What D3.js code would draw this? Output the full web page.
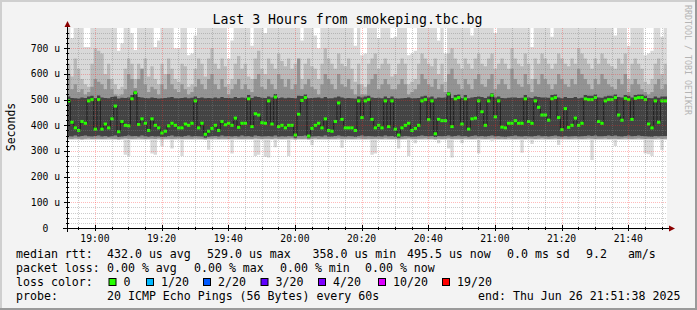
<!DOCTYPE html>
<html>
<head>
<meta charset="utf-8">
<script src="https://cdn.jsdelivr.net/npm/d3@7"></script>
<style>
html, body { margin: 0; padding: 0; background: #f3f3f3; }
svg { display: block; }
text { font-family: "DejaVu Sans Mono", monospace; }
</style>
</head>
<body>
<script>
// one value per 60s step, 180 steps (18:51:38 .. 21:51:38), microseconds
const median = [
  495,412,390,380,415,408,495,500,385,500, 385,405,390,425,475,375,415,400,398,503,
  527,403,425,408,380,425,400,390,370,377, 398,408,400,390,390,405,400,408,495,390,
  408,365,377,388,400,380,415,402,408,400, 428,392,408,408,503,395,445,440,410,408,
  495,405,510,395,400,390,400,400,362,443, 497,508,358,388,400,408,390,425,380,377,
  415,487,423,390,390,390,380,495,430,495, 500,423,390,400,390,495,395,495,385,362,
  390,400,408,380,388,400,495,500,422,495, 367,423,418,418,522,395,503,508,405,503,
  385,425,428,495,453,400,495,517,433,495, 393,390,408,408,418,408,408,503,415,408,
  495,470,440,440,420,503,508,430,383,465, 392,400,428,400,408,503,500,500,508,415,
  408,495,500,500,508,440,420,505,500,423, 505,508,508,500,405,390,495,412,495,495
];
// smoke: slowest ping (tops above 779 are cut by the graph)
const pingMax = [
  790,740,790,790,790,705,705,790,790,790, 790,790,790,790,790,690,720,790,790,760,
  693,790,790,790,790,790,705,730,790,790, 790,790,700,700,790,790,673,680,750,790,
  790,790,790,790,790,790,790,790,660,730, 790,790,790,790,790,710,790,790,790,760,
  790,790,790,790,790,790,790,790,790,790, 730,790,790,790,750,700,790,790,790,790,
  790,790,790,790,790,790,710,790,673,680, 790,790,790,740,790,790,790,740,745,790,
  790,790,673,680,690,790,790,790,790,790, 790,730,790,680,790,790,790,790,790,790,
  790,750,790,790,790,790,790,790,760,790, 790,790,790,790,790,790,790,790,790,705,
  790,790,790,790,790,745,790,790,790,790, 790,790,790,790,790,790,790,790,790,790,
  790,790,790,790,750,790,790,790,710,790, 790,790,790,673,680,690,790,790,745,790
];
const pingHigh = [
  640,590,660,620,580,560,550,640,700,690, 680,600,640,580,560,540,550,620,660,640,
  580,640,620,660,590,630,580,560,640,600, 660,620,580,570,640,630,550,560,620,660,
  640,590,660,700,640,620,660,630,560,580, 640,670,620,640,590,580,660,690,620,600,
  660,640,620,680,650,630,660,620,640,590, 580,640,660,630,620,580,640,700,660,640,
  620,680,640,630,660,620,570,640,560,550, 640,660,680,620,640,660,640,590,600,640,
  660,640,560,570,580,640,680,660,640,630, 660,600,640,570,680,700,660,640,620,660,
  640,620,660,680,640,630,660,680,620,640, 660,640,620,700,660,640,630,680,640,580,
  660,640,680,660,640,620,640,680,660,640, 630,660,640,700,680,660,640,620,660,640,
  680,660,640,630,620,660,640,680,580,640, 660,640,620,570,560,580,640,660,600,640
];
const pingMid = [
  600,540,560,530,540,520,530,550,580,570, 560,540,580,540,520,515,520,540,600,580,
  545,580,620,560,530,550,540,520,560,540, 600,560,540,530,560,540,520,530,550,580,
  560,540,580,600,560,540,580,550,520,540, 560,580,540,560,540,530,580,600,550,540,
  580,560,540,600,580,550,580,540,560,660, 540,560,580,550,540,520,560,600,580,560,
  540,600,560,550,580,540,520,560,520,520, 560,580,600,540,560,580,560,540,540,560,
  580,560,520,530,540,560,600,580,560,550, 580,540,560,530,600,620,580,560,540,580,
  560,540,580,600,560,550,580,600,540,560, 580,560,540,620,580,560,550,600,560,530,
  580,560,600,580,560,540,560,600,580,560, 550,580,560,620,600,580,560,540,580,560,
  600,580,560,550,540,580,560,600,530,560, 580,560,540,530,520,530,560,580,540,560
];
const pingCore = [
  512,506,505,504,508,506,512,515,506,516, 508,506,505,510,512,504,507,506,508,518,
  535,510,508,506,505,508,506,504,505,506, 508,510,505,505,506,508,505,507,512,506,
  508,505,506,505,508,505,510,506,506,505, 510,506,508,507,518,506,512,510,507,506,
  512,508,522,506,508,505,507,506,505,515, 514,520,505,506,507,508,505,510,505,505,
  508,512,508,505,506,505,504,512,508,512, 515,508,506,507,505,512,506,512,505,504,
  505,506,508,505,505,506,512,515,508,512, 504,508,507,508,530,506,518,520,506,518,
  505,508,510,512,510,506,512,525,508,512, 506,505,507,508,508,506,507,518,508,506,
  512,510,508,508,507,518,520,508,505,510, 506,506,510,505,507,518,515,515,520,508,
  507,512,515,515,520,510,508,518,515,508, 518,520,520,515,506,505,512,507,512,512
];
const pingLow = [
  358,356,360,355,358,360,357,356,358,360, 356,358,355,357,360,354,356,358,360,357,
  358,356,360,357,355,358,356,357,354,355, 358,360,356,357,355,358,360,356,358,357,
  356,352,355,357,358,356,360,357,358,356, 358,356,360,357,358,355,360,358,356,357,
  358,356,360,355,357,356,358,357,352,358, 358,360,350,356,357,358,356,360,355,356,
  358,360,357,356,358,357,355,358,360,357, 358,357,356,358,356,360,357,358,355,352,
  356,358,357,355,356,358,360,358,357,358, 354,358,357,358,360,356,358,360,357,358,
  355,358,360,357,358,356,358,360,357,358, 356,355,357,358,360,357,356,358,357,356,
  358,360,357,358,356,358,360,357,355,358, 356,357,358,356,357,358,360,358,360,357,
  357,358,360,358,360,357,356,358,360,357, 358,360,358,357,356,355,358,357,358,358
];
const pingFloor = [
  348,347,349,348,346,348,349,347,348,348, 347,348,349,348,347,346,348,349,348,347,
  348,349,348,347,348,348,347,349,346,348, 348,347,348,349,347,348,348,347,349,348,
  347,346,348,348,349,347,348,348,347,348, 349,348,347,348,348,347,349,348,347,348,
  348,347,349,348,347,348,348,349,346,348, 347,348,346,348,349,347,348,348,347,348,
  348,349,347,348,348,347,348,349,348,347, 348,347,348,348,347,349,348,347,348,346,
  347,348,349,348,347,348,348,349,347,348, 346,348,347,348,349,347,348,348,347,349,
  348,347,348,349,348,347,348,349,348,347, 348,347,349,348,347,348,348,347,349,348,
  347,348,349,348,347,348,349,347,348,348, 347,348,349,348,347,348,349,348,347,348,
  348,349,347,348,348,347,348,349,348,347, 348,349,348,347,348,347,348,349,347,348
];
// fastest ping
const pingMin = [
  343,343,343,343,343,343,343,343,343,343, 343,343,343,343,343,343,343,285,280,343,
  343,343,343,343,343,290,285,343,318,343, 343,310,343,343,280,343,343,343,343,343,
  343,343,305,343,343,343,343,343,343,290, 343,343,343,343,343,343,280,285,343,278,
  275,343,315,343,343,343,280,343,343,343, 343,343,343,322,343,343,343,343,343,343,
  343,343,313,343,343,343,343,343,343,343, 343,285,290,343,343,343,343,343,343,310,
  343,343,280,343,330,343,343,343,343,343, 343,330,343,343,310,275,343,343,330,343,
  343,343,343,290,343,343,343,340,343,343, 343,343,343,343,343,343,293,343,343,327,
  343,343,343,343,343,343,343,323,343,343, 343,343,343,343,343,343,343,265,343,343,
  343,343,343,343,319,343,343,343,343,343, 343,343,343,290,287,280,343,343,304,343
];

const yTickValues = [0, 100, 200, 300, 400, 500, 600, 700];
const yTickLabels = ["0\u00a0\u00a0", "100 u", "200 u", "300 u", "400 u", "500 u", "600 u", "700 u"];
const xTickLabels = ["19:00", "19:20", "19:40", "20:00", "20:20", "20:40", "21:00", "21:20", "21:40"];

const rttLegend = ["median rtt:", "432.0 us avg", "529.0 us max", "358.0 us min", "495.5 us now", "0.0 ms sd", "9.2   am/s"];
const lossLegend = ["packet loss:", "0.00 % avg", "0.00 % max", "0.00 % min", "0.00 % now"];
const lossLabels = ["0", "1/20", "2/20", "3/20", "4/20", "10/20", "19/20"];
const lossColors = ["#26ff00", "#00b8ff", "#0059ff", "#5e00ff", "#7e00ff", "#dd00ff", "#ff0000"];
const probeLegend = ["probe:", "20 ICMP Echo Pings (56 Bytes) every 60s", "end: Thu Jun 26 21:51:38 2025"];

function main(){
    const W = 697, H = 310;
    const left = 67, right = 667, top = 28, bottom = 228;

    // legend layout (x positions of each item)
    const rttX = [16, 107, 207, 312.5, 407, 507, 586];
    const lossX = [16, 107, 194, 280, 365];
    const swatchX = [108.5, 146, 203, 260.5, 318, 378, 442];
    const probeX = [16, 107, 478];

    const svg = d3.select("body").append("svg")
        .attr("width", W)
        .attr("height", H);

    svg.append("rect").attr("width", W).attr("height", H).attr("fill", "#f3f3f3");
    // 3d frame
    svg.append("rect").attr("x", 0).attr("y", 0).attr("width", W).attr("height", 2).attr("fill", "#cfcfcf");
    svg.append("rect").attr("x", 0).attr("y", 0).attr("width", 2).attr("height", H).attr("fill", "#cfcfcf");
    svg.append("rect").attr("x", 0).attr("y", H - 2).attr("width", W).attr("height", 2).attr("fill", "#9a9a9a");
    svg.append("rect").attr("x", W - 2).attr("y", 0).attr("width", 2).attr("height", H).attr("fill", "#9a9a9a");

    const start = new Date(2025, 5, 26, 18, 51, 38);
    const end = new Date(2025, 5, 26, 21, 51, 38);
    const colTime = k => new Date(start.getTime() + k * 60000);

    const x = d3.scaleTime().domain([start, end]).range([left, right]);
    const y = d3.scaleLinear().domain([0, 779]).range([bottom, top]);

    svg.append("defs").append("clipPath").attr("id", "plotclip")
        .append("rect").attr("x", left).attr("y", top)
        .attr("width", right - left).attr("height", bottom - top);

    svg.append("rect").attr("x", left).attr("y", top)
        .attr("width", right - left).attr("height", bottom - top)
        .attr("fill", "#ffffff");

    const rows = median.map((m, k) => ({
        t: colTime(k), med: m, min: pingMin[k], floor: pingFloor[k], low: pingLow[k],
        core: pingCore[k], mid: pingMid[k], high: pingHigh[k], max: pingMax[k]
    }));
    rows.push(Object.assign({}, rows[rows.length - 1], {t: end}));

    const g = svg.append("g").attr("clip-path", "url(#plotclip)");

    const bands = [
        {lo: "min", hi: "max", color: "#d9d9d9"},
        {lo: "floor", hi: "high", color: "#b9b9b9"},
        {lo: "floor", hi: "mid", color: "#939393"},
        {lo: "low", hi: "core", color: "#434343"}
    ];
    bands.forEach(b => {
        g.append("path")
            .datum(rows)
            .attr("fill", b.color)
            .attr("d", d3.area()
                .curve(d3.curveStepAfter)
                .x(d => x(d.t))
                .y0(d => y(d[b.lo]))
                .y1(d => y(d[b.hi])));
    });

    // median line
    g.append("path")
        .datum(rows)
        .attr("fill", "none")
        .attr("stroke", "#1e1e1e")
        .attr("stroke-width", 1)
        .attr("d", d3.line()
            .curve(d3.curveStepAfter)
            .x(d => x(d.t))
            .y(d => y(d.med)));

    g.selectAll(".med").data(median).enter().append("rect")
        .attr("x", (d, k) => x(colTime(k)))
        .attr("width", (d, k) => x(colTime(k + 1)) - x(colTime(k)))
        .attr("y", d => y(d) - 1.5)
        .attr("height", 3)
        .attr("fill", lossColors[0]);

    // grid on top
    const px = v => Math.round(v) + 0.5;
    const grid = svg.append("g").attr("shape-rendering", "crispEdges");
    const minorY = d3.range(20, 779, 20).filter(v => v % 100 !== 0);
    grid.selectAll(".gy").data(minorY).enter().append("line")
        .attr("x1", left).attr("x2", right)
        .attr("y1", d => px(y(d))).attr("y2", d => px(y(d)))
        .attr("stroke", "rgba(128,128,128,0.4)").attr("stroke-dasharray", "1,1");
    const minorX = d3.timeMinute.every(5).range(start, end).filter(t => t.getMinutes() % 20 !== 0);
    grid.selectAll(".gx").data(minorX).enter().append("line")
        .attr("y1", top).attr("y2", bottom)
        .attr("x1", d => px(x(d))).attr("x2", d => px(x(d)))
        .attr("stroke", "rgba(128,128,128,0.4)").attr("stroke-dasharray", "1,1");

    const majorY = yTickValues.filter(v => v > 0);
    grid.selectAll(".my").data(majorY).enter().append("line")
        .attr("x1", left).attr("x2", right)
        .attr("y1", d => px(y(d))).attr("y2", d => px(y(d)))
        .attr("stroke", "rgba(255,40,40,0.32)").attr("stroke-dasharray", "1,1");
    const majorX = xTickLabels.map(s => {
        const [hh, mm] = s.split(":").map(Number);
        return new Date(2025, 5, 26, hh, mm, 0);
    });
    grid.selectAll(".mx").data(majorX).enter().append("line")
        .attr("y1", top).attr("y2", bottom)
        .attr("x1", d => px(x(d))).attr("x2", d => px(x(d)))
        .attr("stroke", "rgba(255,40,40,0.32)").attr("stroke-dasharray", "1,1");

    // ticks
    grid.selectAll(".ty").data(minorY).enter().append("line")
        .attr("x1", left - 1).attr("x2", left + 2)
        .attr("y1", d => px(y(d))).attr("y2", d => px(y(d)))
        .attr("stroke", "#000");
    grid.selectAll(".tyM").data(majorY).enter().append("line")
        .attr("x1", left - 3).attr("x2", left + 3)
        .attr("y1", d => px(y(d))).attr("y2", d => px(y(d)))
        .attr("stroke", "#000");
    grid.selectAll(".tx").data(minorX).enter().append("line")
        .attr("y1", bottom - 1).attr("y2", bottom + 2)
        .attr("x1", d => px(x(d))).attr("x2", d => px(x(d)))
        .attr("stroke", "#000");
    grid.selectAll(".txM").data(majorX).enter().append("line")
        .attr("y1", bottom - 3).attr("y2", bottom + 3)
        .attr("x1", d => px(x(d))).attr("x2", d => px(x(d)))
        .attr("stroke", "#000");

    // axes
    grid.append("line").attr("x1", left - 4).attr("x2", right + 3)
        .attr("y1", bottom + 0.5).attr("y2", bottom + 0.5).attr("stroke", "#000");
    grid.append("line").attr("x1", left + 0.5).attr("x2", left + 0.5)
        .attr("y1", bottom + 4).attr("y2", top - 2).attr("stroke", "#000");
    svg.append("path")
        .attr("d", `M${left - 2.5},${top - 1} L${left + 3.5},${top - 1} L${left + 0.5},${top - 7} Z`)
        .attr("fill", "#8b0000");
    svg.append("path")
        .attr("d", `M${right + 2},${bottom - 2.5} L${right + 2},${bottom + 3.5} L${right + 8},${bottom + 0.5} Z`)
        .attr("fill", "#8b0000");

    // tick labels
    svg.selectAll(".yl").data(yTickValues).enter().append("text")
        .attr("x", 60)
        .attr("y", d => y(d) + 3.5)
        .attr("text-anchor", "end")
        .attr("font-size", "9.7px")
        .attr("fill", "#000")
        .text((d, i) => yTickLabels[i]);
    svg.selectAll(".xl").data(majorX).enter().append("text")
        .attr("x", d => x(d))
        .attr("y", 242)
        .attr("text-anchor", "middle")
        .attr("font-size", "9.7px")
        .attr("fill", "#000")
        .text((d, i) => xTickLabels[i]);

    // titles
    svg.append("text")
        .attr("x", 347.5).attr("y", 24)
        .attr("text-anchor", "middle")
        .attr("font-size", "13.2px")
        .text("Last 3 Hours from smokeping.tbc.bg");
    svg.append("text")
        .attr("transform", "translate(15,127) rotate(-90)")
        .attr("text-anchor", "middle")
        .attr("font-size", "11.5px")
        .text("Seconds");
    svg.append("text")
        .attr("transform", "translate(685,5) rotate(90)")
        .attr("font-size", "8.3px")
        .attr("fill", "#b4b4b4")
        .text("RRDTOOL / TOBI OETIKER");

    // legend
    const leg = svg.append("g").attr("font-size", "11.6px").attr("fill", "#000");
    const addRow = (items, xs, yy) => items.forEach((s, i) => {
        leg.append("text").attr("x", xs[i]).attr("y", yy)
            .attr("xml:space", "preserve").style("white-space", "pre").text(s);
    });
    addRow(rttLegend, rttX, 258);
    addRow(lossLegend, lossX, 272);
    leg.append("text").attr("x", 16).attr("y", 286).text("loss color:");
    lossLabels.forEach((s, i) => {
        leg.append("rect")
            .attr("x", swatchX[i] + 0.5).attr("y", 278.5)
            .attr("width", 7).attr("height", 7)
            .attr("fill", lossColors[i]).attr("stroke", "#000").attr("stroke-width", 1);
        leg.append("text").attr("x", swatchX[i] + 15).attr("y", 286).text(s);
    });
    addRow(probeLegend, probeX, 300);
}
main();
</script>
</body>
</html>
